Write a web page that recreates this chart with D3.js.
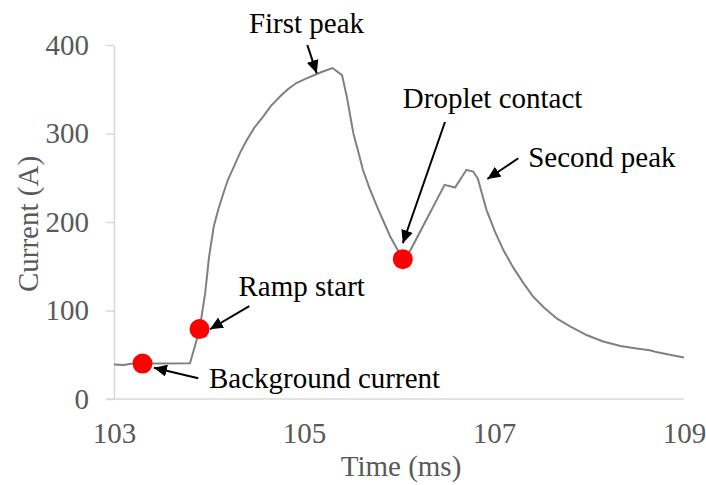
<!DOCTYPE html>
<html>
<head>
<meta charset="utf-8">
<script src="https://cdn.jsdelivr.net/npm/d3@7"></script>
<style>
  html, body { margin: 0; padding: 0; background: #fff; }
  svg { display: block; font-family: "Liberation Serif", "Times New Roman", serif; }
</style>
</head>
<body>
<svg id="chart" width="706" height="485"></svg>
<script>
// current trace (time in ms, current in A)
const times = [103.0, 103.1, 103.2, 103.5, 103.8, 103.9, 103.96, 104.0, 104.05, 104.1,
  104.15, 104.2, 104.26, 104.33, 104.4, 104.48, 104.57, 104.65, 104.75, 104.83,
  104.92, 105.02, 105.13, 105.2, 105.3, 105.4, 105.45, 105.52, 105.57, 105.62,
  105.69, 105.77, 105.84, 105.91, 106.04, 106.12, 106.48, 106.59, 106.71, 106.78,
  106.83, 106.92, 107.01, 107.1, 107.2, 107.31, 107.41, 107.52, 107.66, 107.8,
  107.98, 108.15, 108.33, 108.5, 108.64, 108.71, 108.85, 109.0]
const current = [39, 38.5, 40, 40, 40.5, 78, 120, 160, 195, 215,
  232, 248, 262, 279, 293, 307, 319, 331, 342, 350,
  357, 362, 367, 370, 374, 366, 342, 300, 280, 259,
  238, 217, 200, 183, 158, 168, 242, 239, 259, 257,
  249, 214, 189, 168, 149, 131, 116, 104, 91, 82,
  72, 65, 60, 57, 55, 53, 50, 47]

// highlighted events
const eventTimes = [103.3, 103.9, 106.04]
const eventCurrent = [40, 79, 158]

const xTicks = [103, 105, 107, 109]
const yTicks = [0, 100, 200, 300, 400]

const labels = ['First peak', 'Droplet contact', 'Second peak', 'Ramp start', 'Background current']

const svg = d3.select('#chart')
const x = d3.scaleLinear().domain([103, 109]).range([114, 684])
const y = d3.scaleLinear().domain([0, 400]).range([399, 45])

const gray = '#595959'
const fontSize = 29

// y axis
const yAxis = svg.append('g')
  .attr('transform', `translate(${x(103)},0)`)
  .call(d3.axisLeft(y).tickValues(yTicks).tickSize(8).tickSizeOuter(0).tickPadding(17))
yAxis.select('.domain').attr('stroke', '#d9d9d9').attr('stroke-width', 1.5)
yAxis.selectAll('.tick line').attr('stroke', '#d9d9d9').attr('stroke-width', 1.5)
yAxis.selectAll('.tick text')
  .attr('fill', gray)
  .style('font-size', fontSize + 'px')
  .style('font-family', '"Liberation Serif", "Times New Roman", serif')

// x axis
const xAxis = svg.append('g')
  .attr('transform', `translate(0,${y(0)})`)
  .call(d3.axisBottom(x).tickValues(xTicks).tickFormat(d3.format('d')).tickSize(0).tickPadding(23))
xAxis.select('.domain').remove()
xAxis.selectAll('.tick text')
  .attr('fill', gray)
  .style('font-size', fontSize + 'px')
  .style('font-family', '"Liberation Serif", "Times New Roman", serif')
svg.append('line')
  .attr('x1', x(103) - 8).attr('x2', x(109))
  .attr('y1', y(0)).attr('y2', y(0))
  .attr('stroke', '#d9d9d9').attr('stroke-width', 1.5)

// axis titles
svg.append('text')
  .attr('transform', `translate(38,${(y(0) + y(400)) / 2 + 2}) rotate(-90)`)
  .attr('text-anchor', 'middle')
  .attr('fill', gray)
  .style('font-size', fontSize + 'px')
  .text('Current (A)')
svg.append('text')
  .attr('x', (x(103) + x(109)) / 2 + 2)
  .attr('y', 476)
  .attr('text-anchor', 'middle')
  .attr('fill', gray)
  .style('font-size', fontSize + 'px')
  .text('Time (ms)')

// trace
const line = d3.line()
  .x(i => x(times[i]))
  .y(i => y(current[i]))
svg.append('path')
  .datum(d3.range(times.length))
  .attr('d', line)
  .attr('fill', 'none')
  .attr('stroke', '#808080')
  .attr('stroke-width', 2)

// event markers
svg.selectAll('circle.event')
  .data(d3.range(eventTimes.length))
  .enter()
  .append('circle')
  .attr('class', 'event')
  .attr('cx', i => x(eventTimes[i]))
  .attr('cy', i => y(eventCurrent[i]))
  .attr('r', 10)
  .attr('fill', '#ff0000')

// annotations, placed in data units: label anchor, arrow start, arrow tip
const layout = [
  { tx: 104.42, ty: 414, from: [105.035, 400], to: [105.134, 368] },
  { tx: 106.04, ty: 328.5, from: [106.484, 313], to: [106.04, 176] },
  { tx: 107.36, ty: 262, from: [107.256, 272], to: [106.93, 248.6] },
  { tx: 104.31, ty: 116.7, from: [104.424, 105], to: [104.01, 78.8] },
  { tx: 104.0, ty: 12.4, from: [103.887, 23.4], to: [103.42, 35.4] }
]

svg.append('defs').append('marker')
  .attr('id', 'arrow')
  .attr('viewBox', '0 0 13 12')
  .attr('refX', 13).attr('refY', 6)
  .attr('markerWidth', 13).attr('markerHeight', 12)
  .attr('markerUnits', 'userSpaceOnUse')
  .attr('orient', 'auto')
  .append('path')
  .attr('d', 'M0,0L13,6L0,12z')
  .attr('fill', '#000')

const ann = svg.selectAll('g.ann')
  .data(labels.map((t, i) => ({ text: t, ...layout[i] })))
  .enter()
  .append('g')
  .attr('class', 'ann')
ann.append('line')
  .attr('x1', d => x(d.from[0])).attr('y1', d => y(d.from[1]))
  .attr('x2', d => x(d.to[0])).attr('y2', d => y(d.to[1]))
  .attr('stroke', '#000')
  .attr('stroke-width', 2)
  .attr('marker-end', 'url(#arrow)')
ann.append('text')
  .attr('x', d => x(d.tx))
  .attr('y', d => y(d.ty))
  .attr('fill', '#000')
  .style('font-size', fontSize + 'px')
  .text(d => d.text)
</script>
</body>
</html>
